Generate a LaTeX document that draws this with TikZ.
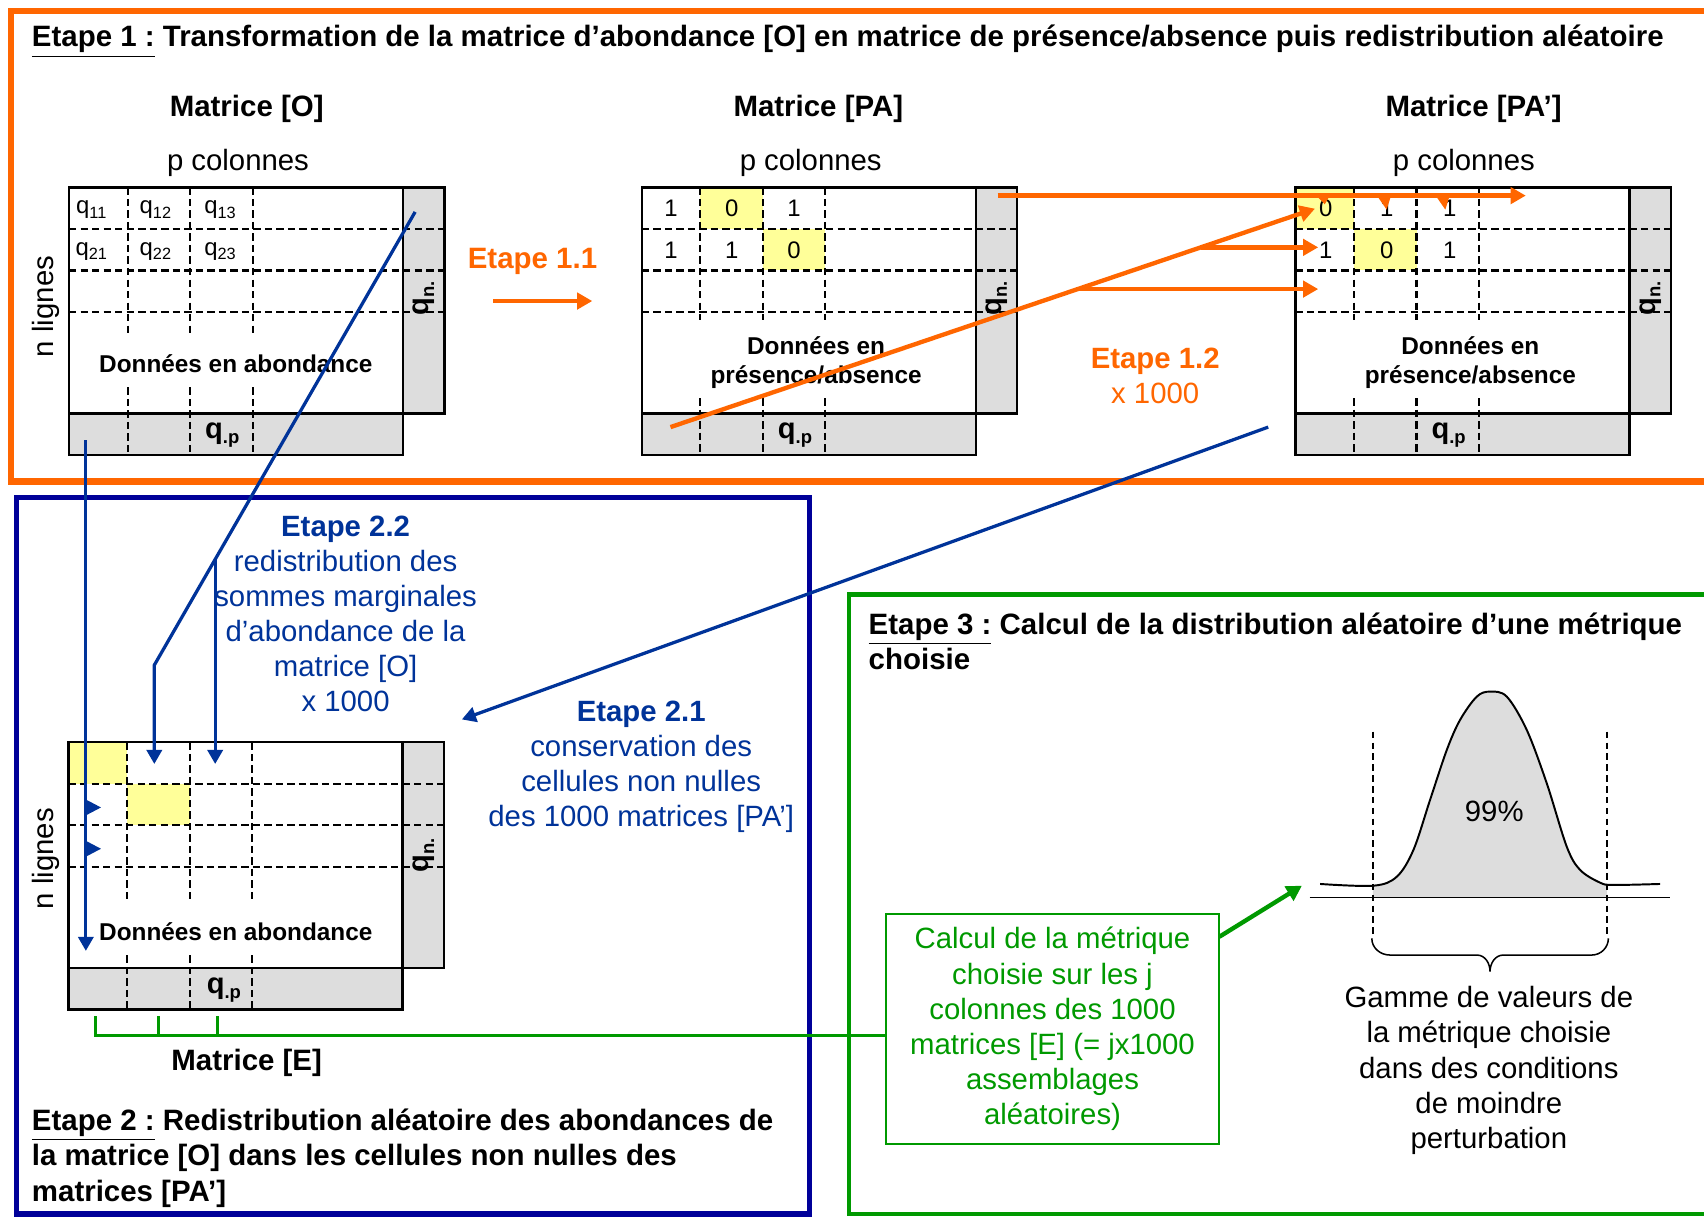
\documentclass[tikz,border=0pt]{standalone}
\usepackage{fontspec}
\setmainfont{Liberation Sans}
\usetikzlibrary{arrows.meta}
\definecolor{orng}{RGB}{255,102,0}
\definecolor{navyb}{RGB}{0,0,153}
\definecolor{blu}{RGB}{0,51,153}
\definecolor{grn}{RGB}{0,153,0}
\definecolor{yel}{RGB}{255,255,153}
\definecolor{gry}{RGB}{221,221,221}
\newcommand{\qq}[1]{q\raisebox{-0.35ex}{\fontsize{7.5}{8}\selectfont #1}}
\newcommand{\qb}[1]{q\raisebox{-0.35ex}{\fontsize{8.5}{9}\selectfont #1}}
\newcommand{\matgrey}{\filldraw[greyfill] (307.5,0) rectangle (345.5,208);
  \filldraw[greyfill] (0,208) rectangle (307.5,246);}
\newcommand{\matgrid}[2]{%
  \foreach \yy in {38.5,76.5,115} {\draw[dashln] (0,\yy) -- (345.5,\yy);}
  \foreach \xx in {54,111.5,169} {\draw[dashln] (\xx,0) -- (\xx,#1); \draw[dashln] (\xx,#2) -- (\xx,246);}
  \draw[matborder] (0,0) rectangle (307.5,208);}
\begin{document}
\begin{tikzpicture}[x=0.5pt,y=-0.5pt,
  txt/.style={inner sep=0pt, align=center, font=\fontsize{13.5}{16.1}\selectfont},
  txtb/.style={inner sep=0pt, align=center, font=\bfseries\fontsize{13.55}{16.1}\selectfont},
  cell/.style={inner sep=0pt, font=\fontsize{11}{13}\selectfont},
  dat/.style={inner sep=0pt, align=center, font=\bfseries\fontsize{11.2}{13.5}\selectfont},
  qbig/.style={inner sep=0pt, font=\bfseries\fontsize{13.4}{16}\selectfont},
  dashln/.style={line width=1pt, dash pattern=on 3.4pt off 1.9pt},
  matborder/.style={line width=1.1pt},
  greyfill/.style={fill=gry, draw=black, line width=1.1pt},
  oarr/.style={draw=orng, line width=2pt, -{Triangle[length=7pt,width=7.5pt]}},
  omark/.style={draw=orng, line width=1pt, -{Triangle[length=6.5pt,width=6pt]}},
  omarks/.style={draw=orng, line width=1pt, -{Triangle[length=3.5pt,width=5pt]}},
  barr/.style={draw=blu, line width=1.5pt, -{Triangle[length=6.5pt,width=7pt]}},
  bmark/.style={draw=blu, line width=1pt, -{Triangle[length=6.5pt,width=6.5pt]}},
  garr/.style={draw=grn, line width=2pt, -{Triangle[length=7pt,width=7.5pt]}}
]
\useasboundingbox (0,0) rectangle (1568,1120);
\clip (0,0) rectangle (1568,1120);

% ---------- frames ----------
\draw[orng, line width=3pt] (1600,10) -- (10,10) -- (10,443) -- (1600,443);
\draw[navyb, line width=2.5pt] (15,458) rectangle (745,1117);
\draw[grn, line width=2pt] (1600,547) -- (781,547) -- (781,1117) -- (1600,1117);

% ---------- titles ----------
\node[txtb, anchor=west] (t1) at (29,38) {\underline{Etape 1 :} Transformation de la matrice d’abondance [O] en matrice de présence/absence puis redistribution aléatoire};
\node[txtb] (mO) at (227,100) {Matrice [O]};
\node[txtb] (mPA) at (753,100) {Matrice [PA]};
\node[txtb] (mPAp) at (1356,100) {Matrice [PA’]};
\node[txt] (pc1) at (219,150) {p colonnes};
\node[txt] (pc2) at (746,150) {p colonnes};
\node[txt] (pc3) at (1347,150) {p colonnes};
\node[txt, rotate=90] (nl1) at (42,282) {n lignes};
\node[txt, rotate=90] (nl2) at (42,790) {n lignes};

% ---------- matrix O ----------
\begin{scope}[shift={(63.5,172.4)}]
  \matgrey
  \matgrid{136}{184}
  \node[cell] (q11) at (20.5,20.5) {\qq{11}};
  \node[cell] (q12) at (79.5,20.5) {\qq{12}};
  \node[cell] (q13) at (139,20.5) {\qq{13}};
  \node[cell] (q21) at (20.5,59) {\qq{21}};
  \node[cell] (q22) at (79.5,59) {\qq{22}};
  \node[cell] (q23) at (139,59) {\qq{23}};
  \node[dat] (dO) at (153.5,162.6) {Données en abondance};
  \node[qbig] (qpO) at (141,228) {\qb{.p}};
  \node[qbig, rotate=90] (qnO) at (326.5,102) {\qb{n.}};
\end{scope}

% ---------- matrix PA ----------
\begin{scope}[shift={(590.5,172.4)}]
  \matgrey
  \fill[yel] (54,0) rectangle (111.5,38.5);
  \fill[yel] (111.5,38.5) rectangle (169,76.5);
  \matgrid{122}{194}
  \node[cell] (pa11) at (27,19.25) {1};
  \node[cell] (pa12) at (82.75,19.25) {0};
  \node[cell] (pa13) at (140.25,19.25) {1};
  \node[cell] (pa21) at (27,57.75) {1};
  \node[cell] (pa22) at (82.75,57.75) {1};
  \node[cell] (pa23) at (140.25,57.75) {0};
  \node[dat] (dPA) at (160.5,161.5) {Données en\\présence/absence};
  \node[qbig] (qpPA) at (141,228) {\qb{.p}};
  \node[qbig, rotate=90] (qnPA) at (326.5,102) {\qb{n.}};
\end{scope}

% ---------- matrix PA' ----------
\begin{scope}[shift={(1192,172.4)}]
  \matgrey
  \fill[yel] (0,0) rectangle (54,38.5);
  \fill[yel] (54,38.5) rectangle (111.5,76.5);
  \matgrid{122}{194}
  \node[cell] (pb11) at (28,19.25) {0};
  \node[cell] (pb12) at (84,19.25) {1};
  \node[cell] (pb13) at (142,19.25) {1};
  \node[cell] (pb21) at (28,57.75) {1};
  \node[cell] (pb22) at (84,57.75) {0};
  \node[cell] (pb23) at (142,57.75) {1};
  \node[dat] (dPAp) at (161,161.5) {Données en\\présence/absence};
  \node[qbig] (qpPAp) at (141,228) {\qb{.p}};
  \node[qbig, rotate=90] (qnPAp) at (326.5,102) {\qb{n.}};
\end{scope}

% ---------- matrix E ----------
\begin{scope}[shift={(63,683)}]
  \matgrey
  \fill[yel] (0,0) rectangle (54,38.5);
  \fill[yel] (54,38.5) rectangle (111.5,76.5);
  \matgrid{148}{196}
  \node[dat] (dE) at (154,174) {Données en abondance};
  \node[qbig] (qpE) at (143,228) {\qb{.p}};
  \node[qbig, rotate=90] (qnE) at (327,104) {\qb{n.}};
\end{scope}
\node[txtb] (mE) at (227,978) {Matrice [E]};

% ---------- orange step labels & arrows ----------
\node[txtb, text=orng] (e11) at (490,241) {Etape 1.1};
\node[txt, text=orng] (e12) at (1063,346) {\textbf{Etape 1.2}\\x 1000};
\coordinate (o11s) at (454,277); \coordinate (o11e) at (545,277);
\draw[oarr] (o11s) -- (o11e);
\coordinate (otops) at (918,180); \coordinate (otope) at (1404,180);
\draw[oarr] (otops) -- (otope);
\draw[omarks] (1218,180) -- (1219,188);
\draw[omark] (1274,180) -- (1276,193);
\draw[omark] (1328,180) -- (1330,193);
\coordinate (odgs) at (617,393); \coordinate (odge) at (1210,192);
\draw[oarr] (odgs) -- (odge);
\coordinate (obr1s) at (1105,227.6); \coordinate (obr1e) at (1213,227.6);
\coordinate (obr2s) at (990,266); \coordinate (obr2e) at (1213,266);
\draw[oarr] (obr1s) -- (obr1e);
\draw[oarr] (obr2s) -- (obr2e);

% ---------- blue labels & arrows ----------
\node[txt, text=blu] (e22) at (318,564.5) {\textbf{Etape 2.2}\\redistribution des\\sommes marginales\\d’abondance de la\\matrice [O]\\x 1000};
\node[txt, text=blu] (e21) at (590,705.5) {\textbf{Etape 2.1}\\conservation des\\cellules non nulles\\des 1000 matrices [PA’]};
\coordinate (b1s) at (382,195); \coordinate (b1m) at (142,612); \coordinate (b1e) at (142,703);
\draw[barr] (b1s) -- (b1m) -- (b1e);
\coordinate (b2s) at (198,514.7); \coordinate (b2e) at (198,703);
\draw[barr] (b2s) -- (b2e);
\coordinate (b3s) at (79,405); \coordinate (b3e) at (79,875);
\draw[barr] (b3s) -- (b3e);
\foreach \my in {743,781} {\draw[bmark] (79,\my) -- (93,\my);}
\coordinate (b4s) at (1167,393); \coordinate (b4e) at (425,662);
\draw[barr] (b4s) -- (b4e);

% ---------- Etape 2 caption ----------
\node[txtb, anchor=west, align=left, font=\bfseries\fontsize{13.55}{16.3}\selectfont] (t2) at (29,1065.5) {\underline{Etape 2 :} Redistribution aléatoire des abondances de\\la matrice [O] dans les cellules non nulles des\\matrices [PA’]};

% ---------- Etape 3 ----------
\node[txtb, anchor=west, align=left] (t3) at (799,590) {\underline{Etape 3 :} Calcul de la distribution aléatoire d’une métrique\\choisie};
\node[txt, text=grn, draw=grn, line width=0.8pt, minimum width=153.5pt, minimum height=106pt, font=\fontsize{13.5}{16.2}\selectfont] (gbox) at (968.5,947) {Calcul de la métrique\\choisie sur les j\\colonnes des 1000\\matrices [E] (= jx1000\\assemblages\\aléatoires)};
\coordinate (gk1) at (88,935); \coordinate (gk2) at (146,935); \coordinate (gk3) at (200,935);
\draw[grn, line width=1.5pt] (gk1) -- (88,953) -- (gbox.west |- 0,953);
\draw[grn, line width=1.5pt] (gk2) -- (146,953);
\draw[grn, line width=1.5pt] (gk3) -- (200,953);
\coordinate (gas) at (1122,862); \coordinate (gae) at (1198,815);
\draw[garr] (gas) -- (gae);

% ---------- bell curve ----------
\def\bellpts{(1214.7,813.4) (1263.8,815.0) (1285.3,806.7) (1300.6,782.1) (1315.9,736.1) (1331.3,690.1) (1343.5,662.5) (1358.9,641.0) (1371.1,636.4) (1386.5,641.0) (1404.9,671.7) (1423.3,720.8) (1441.7,779.1) (1454.0,800.5) (1472.4,812.2) (1484.7,814.3) (1527.6,813.4)}
\begin{scope}
  \clip (1263.2,600) rectangle (1478.5,826);
  \fill[gry] plot[smooth, tension=0.55] coordinates {\bellpts} -- (1527.6,825.7) -- (1214.7,825.7) -- cycle;
\end{scope}
\draw[line width=0.9pt] plot[smooth, tension=0.55] coordinates {\bellpts};
\draw[line width=0.6pt] (1205,825.7) -- (1536.8,825.7);
\draw[line width=0.8pt, dash pattern=on 3pt off 2pt] (1263.2,673.3) -- (1263.2,862);
\draw[line width=0.8pt, dash pattern=on 3pt off 2pt] (1478.5,673.3) -- (1478.5,862);
\draw[line width=0.7pt] (1262.3,863.4) to[out=-90,in=180] (1279,878.8) -- (1359,878.8) to[out=0,in=90] (1371.1,894.1) to[out=90,in=180] (1383.4,878.8) -- (1464.7,878.8) to[out=0,in=-90] (1480,863.4);
\node[txt] (p99) at (1375,747) {99\%};
\node[txt, font=\fontsize{13.5}{16.3}\selectfont] (gam) at (1370,985) {Gamme de valeurs de\\la métrique choisie\\dans des conditions\\de moindre\\perturbation};
\end{tikzpicture}
\end{document}
